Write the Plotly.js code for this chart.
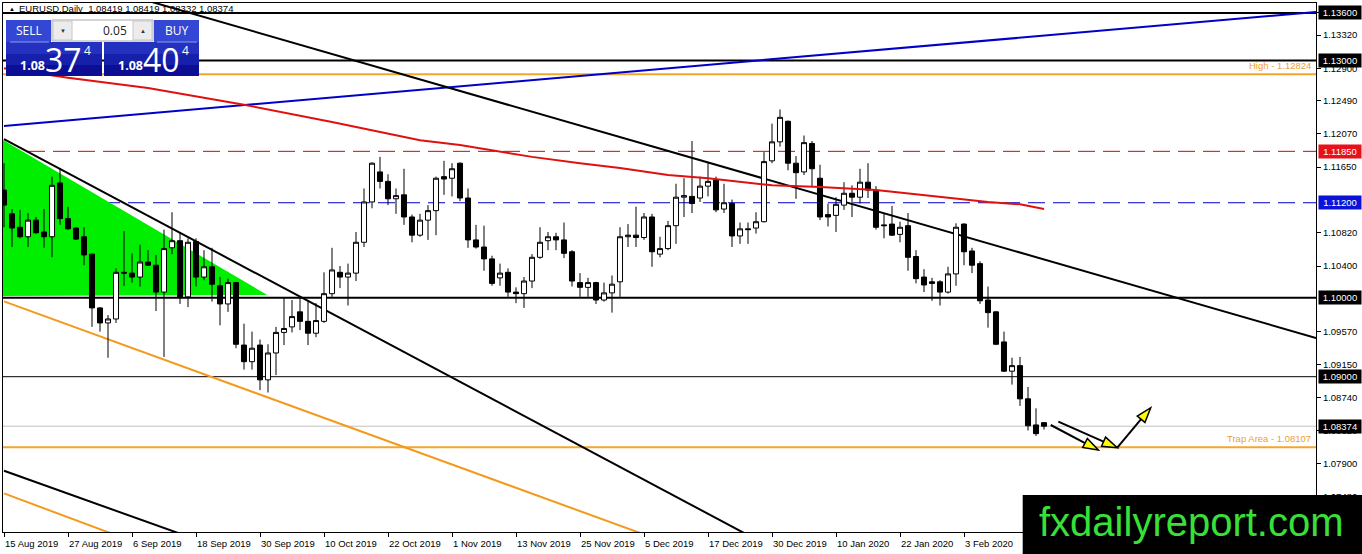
<!DOCTYPE html>
<html><head><meta charset="utf-8">
<script src="https://cdn.plot.ly/plotly-3.0.1.min.js"></script>
<style>html,body{margin:0;padding:0;background:#fff;}#chart{width:1362px;height:554px;}</style>
</head><body><div id="chart"></div>
<script>
// ---- daily EURUSD bars (15 Aug 2019 .. 17 Feb 2020) ----
const opens = [1.1136,1.1106,1.1089,1.1077,1.1098,1.1083,1.1077,1.1145,1.1100,1.1088,
1.1077,1.1055,1.0987,1.0968,1.0973,1.1032,1.1031,1.1026,1.1045,1.1041,
1.1007,1.1063,1.1072,1.1001,1.1071,1.1026,1.1039,1.1015,1.0992,1.1019,
1.0940,1.0919,1.0940,1.0896,1.0930,1.0956,1.0963,1.0982,1.0970,1.0955,
1.0970,1.1005,1.1032,1.1026,1.1031,1.1070,1.1121,1.1159,1.1147,1.1125,
1.1130,1.1102,1.1079,1.1098,1.1110,1.1153,1.1151,1.1170,1.1126,1.1073,
1.1064,1.1049,1.1025,1.1032,1.1007,1.1005,1.1021,1.1051,1.1072,1.1077,
1.1073,1.1058,1.1019,1.1013,1.1019,1.0997,1.1006,1.1020,1.1077,1.1079,
1.1076,1.1102,1.1055,1.1062,1.1091,1.1127,1.1128,1.1126,1.1141,1.1149,
1.1112,1.1119,1.1078,1.1087,1.1088,1.1096,1.1173,1.1197,1.1223,1.1170,
1.1159,1.1195,1.1151,1.1105,1.1104,1.1117,1.1132,1.1127,1.1146,1.1136,
1.1092,1.1093,1.1080,1.1091,1.1052,1.1026,1.1020,1.1020,1.1007,1.1030,
1.1093,1.1059,1.1043,1.0997,1.0982,1.0944,1.0907,1.0914,1.0872,1.0839,
1.08419];
const highs = [1.1170,1.1112,1.1111,1.1107,1.1102,1.1112,1.1153,1.1164,1.1115,1.1089,
1.1089,1.1056,1.0988,1.0978,1.1037,1.1084,1.1056,1.1067,1.1060,1.1054,
1.1086,1.1108,1.1082,1.1075,1.1075,1.1060,1.1063,1.1026,1.1024,1.1020,
1.0967,1.0957,1.0947,1.0941,1.0963,1.1000,1.0997,1.1000,1.0997,1.0993,
1.1032,1.1063,1.1040,1.1043,1.1083,1.1138,1.1171,1.1178,1.1156,1.1138,
1.1163,1.1105,1.1106,1.1117,1.1153,1.1173,1.1170,1.1171,1.1138,1.1092,
1.1091,1.1053,1.1043,1.1037,1.1013,1.1026,1.1055,1.1089,1.1083,1.1082,
1.1095,1.1060,1.1031,1.1025,1.1020,1.1019,1.1028,1.1089,1.1093,1.1115,
1.1107,1.1106,1.1077,1.1097,1.1144,1.1151,1.1198,1.1153,1.1170,1.1153,
1.1144,1.1124,1.1095,1.1095,1.1108,1.1184,1.1220,1.1238,1.1224,1.1179,
1.1205,1.1198,1.1168,1.1119,1.1127,1.1146,1.1142,1.1163,1.1170,1.1141,
1.1107,1.1116,1.1096,1.1107,1.1060,1.1036,1.1025,1.1022,1.1039,1.1094,
1.1094,1.1063,1.1046,1.1014,1.0983,1.0957,1.0924,1.0925,1.0887,1.0860,
1.08419];
const lows = [1.1089,1.1064,1.1075,1.1064,1.1081,1.1063,1.1051,1.1092,1.1086,1.1073,
1.1041,1.0963,1.0957,1.0924,1.0968,1.1015,1.1019,1.1014,1.1040,1.0983,
1.0925,1.1055,1.0992,1.0988,1.1014,1.1022,1.0995,1.0965,1.0982,1.0936,
1.0909,1.0909,1.0883,1.0880,1.0902,1.0940,1.0956,1.0959,1.0940,1.0950,
1.0968,1.1001,1.1012,1.0990,1.1021,1.1064,1.1113,1.1138,1.1117,1.1106,
1.1092,1.1070,1.1077,1.1073,1.1079,1.1130,1.1128,1.1122,1.1063,1.1062,
1.1034,1.1015,1.1015,1.1001,1.0993,1.0987,1.1012,1.1049,1.1060,1.1060,
1.1050,1.1014,1.1001,1.1001,1.0992,1.0995,1.0981,1.1001,1.1064,1.1064,
1.1073,1.1039,1.1051,1.1060,1.1068,1.1102,1.1107,1.1121,1.1128,1.1108,
1.1107,1.1064,1.1068,1.1068,1.1081,1.1095,1.1170,1.1191,1.1161,1.1125,
1.1155,1.1140,1.1098,1.1090,1.1083,1.1111,1.1102,1.1119,1.1126,1.1086,
1.1075,1.1078,1.1070,1.1034,1.1018,1.1007,1.0996,1.0990,1.1005,1.1015,
1.1041,1.1031,1.0992,1.0962,1.0940,1.0906,1.0890,1.0863,1.0832,1.0825,
1.08332];
const closes = [1.1117,1.1088,1.1077,1.1098,1.1082,1.1077,1.1142,1.1100,1.1087,1.1074,
1.1054,1.0987,1.0968,1.0973,1.1032,1.1031,1.1026,1.1045,1.1041,1.1007,
1.1062,1.1072,1.1001,1.1070,1.1026,1.1039,1.1017,1.0992,1.1019,1.0941,
1.0919,1.0936,1.0896,1.0930,1.0956,1.0961,1.0976,1.0970,1.0955,1.0971,
1.1005,1.1035,1.1026,1.1031,1.1070,1.1121,1.1170,1.1147,1.1125,1.1129,
1.1102,1.1079,1.1098,1.1110,1.1151,1.1150,1.1163,1.1126,1.1073,1.1064,
1.1049,1.1018,1.1031,1.1007,1.1005,1.1021,1.1051,1.1070,1.1077,1.1073,
1.1056,1.1021,1.1013,1.1019,1.0997,1.1006,1.1017,1.1077,1.1079,1.1076,
1.1102,1.1058,1.1062,1.1091,1.1127,1.1129,1.1119,1.1141,1.1147,1.1111,
1.1120,1.1078,1.1087,1.1086,1.1096,1.1172,1.1197,1.1228,1.1170,1.1158,
1.1196,1.1163,1.1102,1.1102,1.1118,1.1132,1.1127,1.1146,1.1136,1.1089,
1.1091,1.1079,1.1089,1.1051,1.1024,1.1016,1.1018,1.1007,1.1030,1.1089,
1.1058,1.1041,1.0996,1.0981,1.0941,1.0907,1.0914,1.0872,1.0838,1.0828,
1.08374];

// red moving average (bar index, value)
const maIdx = [0,8,18,30,41,52,57,63,66,72,77,83,88,96,102,109,117,123,127,130];
const maVal = [1.1290,1.1278,1.1265,1.1244,1.1222,1.1199,1.1193,1.1183,1.1178,1.1170,
               1.1164,1.1155,1.1151,1.1142,1.1140,1.1136,1.1127,1.1121,1.1118,1.1112];

// x axis labels (bar index -> date)
const tickIdx = [0,8,16,24,32,40,48,56,64,72,80,88,96,104,112,120];
const tickDates = ['15 Aug 2019','27 Aug 2019','6 Sep 2019','18 Sep 2019','30 Sep 2019',
  '10 Oct 2019','22 Oct 2019','1 Nov 2019','13 Nov 2019','25 Nov 2019','5 Dec 2019',
  '17 Dec 2019','30 Dec 2019','10 Jan 2020','22 Jan 2020','3 Feb 2020'];
// y axis labels
const yTicks = [1.1360,1.1332,1.1290,1.1249,1.1207,1.1165,1.1082,1.1040,1.0957,1.0915,1.0874,1.0832,1.0790,1.0748];

// horizontal levels
const blackLevels = [1.136, 1.130, 1.100, 1.090];
const blackWidths = [2, 2, 2, 1];
const highLevel = 1.12824;
const trapLevel = 1.08107;
const redDashLevel = 1.1185;
const blueDashLevel = 1.1120;
const bidLevel = 1.08374;
// right-edge price tags
const tagPrices = [1.136, 1.130, 1.1185, 1.112, 1.100, 1.090, 1.08374];
const tagColors = ['#000000','#000000','#e8101a','#0a14d8','#000000','#000000','#000000'];

// trend lines [bar0, price0, bar1, price1]
const blueTrend = [0, 1.12172, 164, 1.13612];
const blackTrendTop = [17.625, 1.13764, 164, 1.09490];
const blackTrendMid = [0, 1.12004, 92.5, 1.07024];
const blackTrendLow = [0, 1.07810, 21.75, 1.07024];
const orangeTrendMid = [0, 1.09952, 79.5, 1.07024];
const orangeTrendLow = [0, 1.07524, 13.25, 1.07024];
// green triangle vertices
const triBars = [-0.125, -0.125, 32.9];
const triPrices = [1.11994, 1.10021, 1.10034];
// drawn arrows [bar0, price0, bar1, price1]
const arrows = [[130.84,1.08389,136.79,1.08073],[131.79,1.08431,139.16,1.08102],[139.16,1.08102,143.34,1.08608]];

// ---- geometry ----
const W=1362, H=554, ML=3, MR=46, MT=3, MB=22;
const PW=W-ML-MR, PH=H-MT-MB;
const xRange=[-0.125,164], yRange=[1.07036,1.13726];
const PX = x => (x-ML)/PW;
const PY = y => (H-MB-y)/PH;
const toPx = (i,p) => [ML+(i-xRange[0])/(xRange[1]-xRange[0])*PW, MT+(yRange[1]-p)/(yRange[1]-yRange[0])*PH];
const fromPx = (x,y) => [xRange[0]+(x-ML)/PW*(xRange[1]-xRange[0]), yRange[1]-(y-MT)/PH*(yRange[1]-yRange[0])];

const FONT = 'Liberation Sans, Arial, sans-serif';
const shapes = [];
const annotations = [];

// green triangle
shapes.push({type:'path', xref:'x', yref:'y', layer:'below',
  path:`M${triBars[0]},${triPrices[0]} L${triBars[1]},${triPrices[1]} L${triBars[2]},${triPrices[2]} Z`,
  fillcolor:'#00ee00', line:{width:0}});

function tline(t, color, width, dash){
  shapes.push({type:'line', xref:'x', yref:'y', layer:'below', x0:t[0], y0:t[1], x1:t[2], y1:t[3],
    line:{color:color, width:width, dash:dash||'solid'}});
}
function hline(p, color, width, dash){
  shapes.push({type:'line', xref:'paper', yref:'y', layer:'below', x0:0, x1:1, y0:p, y1:p,
    line:{color:color, width:width, dash:dash||'solid'}});
}
blackLevels.forEach((p,k)=>hline(p,'#000000',blackWidths[k]));
hline(highLevel,'#f4a62a',2);
hline(trapLevel,'#f4a62a',2);
hline(redDashLevel,'#dd0000',1,'17px,8px');
hline(blueDashLevel,'#0000c8',1,'17px,8px');
hline(bidLevel,'#c0c0c0',1);
tline(blueTrend,'#0000c8',2);
tline(blackTrendTop,'#000000',2);
tline(blackTrendMid,'#000000',2);
tline(blackTrendLow,'#000000',2);
tline(orangeTrendMid,'#f39a1e',2);
tline(orangeTrendLow,'#f39a1e',2);

// arrows
arrows.forEach(a=>{
  const s=toPx(a[0],a[1]), t=toPx(a[2],a[3]);
  const dx=t[0]-s[0], dy=t[1]-s[1], len=Math.hypot(dx,dy);
  const ux=dx/len, uy=dy/len, nx=-uy, ny=ux, HL=15, HW=5;
  const bx=t[0]-ux*HL, by=t[1]-uy*HL;
  const b=fromPx(bx,by);
  shapes.push({type:'line', xref:'x', yref:'y', layer:'above', x0:a[0], y0:a[1], x1:b[0], y1:b[1], line:{color:'#000',width:2}});
  const p1=fromPx(bx+nx*HW, by+ny*HW), p2=fromPx(bx-nx*HW, by-ny*HW);
  shapes.push({type:'path', xref:'x', yref:'y', layer:'above',
    path:`M${a[2]},${a[3]} L${p1[0]},${p1[1]} L${p2[0]},${p2[1]} Z`, fillcolor:'#ffff00', line:{color:'#000',width:1.5}});
});

// level texts
annotations.push({xref:'paper', yref:'y', x:PX(1313), y:highLevel, xanchor:'right', yanchor:'bottom', yshift:1,
  text:'High - 1.12824', showarrow:false, font:{family:FONT, size:9.5, color:'#f0a030'}});
annotations.push({xref:'paper', yref:'y', x:PX(1313), y:trapLevel, xanchor:'right', yanchor:'bottom', yshift:1,
  text:'Trap Area - 1.08107', showarrow:false, font:{family:FONT, size:9.5, color:'#f0a030'}});

// price tags on axis
tagPrices.forEach((p,k)=>{
  annotations.push({xref:'paper', yref:'y', x:PX(1318), y:p, xanchor:'left', yanchor:'middle',
    text:p.toFixed(5), showarrow:false, bgcolor:tagColors[k], borderpad:1, width:40, height:11,
    font:{family:FONT, size:9.5, color:'#ffffff'}});
});

// title line
annotations.push({xref:'paper', yref:'paper', x:PX(7), y:PY(9), xanchor:'left', yanchor:'middle',
  text:'▲', showarrow:false, font:{family:FONT, size:6, color:'#000'}});
annotations.push({xref:'paper', yref:'paper', x:PX(17), y:PY(9), xanchor:'left', yanchor:'middle',
  text:'EURUSD,Daily  1.08419 1.08419 1.08332 1.08374', showarrow:false, font:{family:FONT, size:9.5, color:'#000'}});

// trading panel
function prect(x0,y0,x1,y1,fill,line){
  shapes.push({type:'rect', xref:'paper', yref:'paper', layer:'above', x0:PX(x0), x1:PX(x1), y0:PY(y1), y1:PY(y0),
    fillcolor:fill, line: line?{color:line,width:1}:{width:0}});
}
function ptext(x,y,txt,size,color,anchor,bold,fam){
  annotations.push({xref:'paper', yref:'paper', x:PX(x), y:PY(y), xanchor:anchor||'center', yanchor:'middle',
    text: bold?'<b>'+txt+'</b>':txt, showarrow:false, font:{family:fam||'Open Sans, sans-serif', size:size, color:color}});
}
// sell block
prect(6,20,51,42,'#3447d4');
prect(6,42,102,54,'#2330c0');
prect(6,54,102,65,'#1620aa');
prect(6,65,102,76,'#0c0e94');
// buy block
prect(154,20,199,42,'#3447d4');
prect(104,42,199,54,'#2330c0');
prect(104,54,199,65,'#1620aa');
prect(104,65,199,76,'#0c0e94');
// separators
shapes.push({type:'line', xref:'paper', yref:'paper', layer:'above', x0:PX(10), x1:PX(49), y0:PY(42), y1:PY(42), line:{color:'#8f9ae8', width:1}});
shapes.push({type:'line', xref:'paper', yref:'paper', layer:'above', x0:PX(157), x1:PX(197), y0:PY(42), y1:PY(42), line:{color:'#8f9ae8', width:1}});
// lot input
prect(52,20,153,41,'#ffffff','#a8a8a8');
prect(53,21,72,40,'#ececec','#c8c8c8');
prect(133,21,152,40,'#ececec','#c8c8c8');
ptext(62.5,30.5,'▼',6,'#333');
ptext(142.5,30.5,'▲',6,'#333');
ptext(129,30.5,'0.05',12,'#222','right');
ptext(28.5,31,'SELL',12,'#ffffff');
ptext(176.5,31,'BUY',12,'#ffffff');
ptext(32,65,'1.08',12.5,'#ffffff','center',true);
ptext(63,59.5,'37',32,'#ffffff');
ptext(87,51,'4',12,'#ffffff');
ptext(130,65,'1.08',12.5,'#ffffff','center',true);
ptext(161,59.5,'40',32,'#ffffff');
ptext(185,51,'4',12,'#ffffff');

// watermark
prect(1022.7,495,1364,556,'#000000');
annotations.push({xref:'paper', yref:'paper', x:PX(1037), y:PY(522), xanchor:'left', yanchor:'middle',
  text:'fxdailyreport.com', showarrow:false, font:{family:FONT, size:40, color:'#38e038'}});

const barX = opens.map((_,i)=>i);
const traces = [
  {type:'candlestick', x:barX, open:opens, high:highs, low:lows, close:closes,
   increasing:{line:{color:'#000000', width:1}, fillcolor:'#ffffff'},
   decreasing:{line:{color:'#000000', width:1}, fillcolor:'#000000'},
   hoverinfo:'skip', showlegend:false},
  {type:'scatter', mode:'lines', x:maIdx, y:maVal, line:{color:'#e01010', width:2}, hoverinfo:'skip', showlegend:false}
];

const layout = {
  width:W, height:H, margin:{l:ML, r:MR, t:MT, b:MB, pad:0},
  paper_bgcolor:'#ffffff', plot_bgcolor:'#ffffff', showlegend:false,
  boxgap:0.3, boxgroupgap:0.1,
  font:{family:FONT, size:9.5, color:'#000'},
  xaxis:{range:xRange, type:'linear', rangeslider:{visible:false}, showgrid:false, zeroline:false,
    showline:true, linecolor:'#000', linewidth:1, mirror:true,
    tickmode:'array', tickvals:tickIdx, ticktext:tickDates, ticks:'outside', ticklen:4, tickcolor:'#000',
    ticklabelposition:'outside right', ticklabelstandoff:3, tickfont:{family:FONT, size:9.5, color:'#000'}},
  yaxis:{range:yRange, side:'right', showgrid:false, zeroline:false,
    showline:true, linecolor:'#000', linewidth:1, mirror:true,
    tickmode:'array', tickvals:yTicks, ticktext:yTicks.map(v=>v.toFixed(5)), ticks:'outside', ticklen:4, tickcolor:'#000',
    tickfont:{family:FONT, size:9.5, color:'#000'}},
  shapes:shapes, annotations:annotations
};
Plotly.newPlot('chart', traces, layout, {displayModeBar:false, staticPlot:true});
</script></body></html>
